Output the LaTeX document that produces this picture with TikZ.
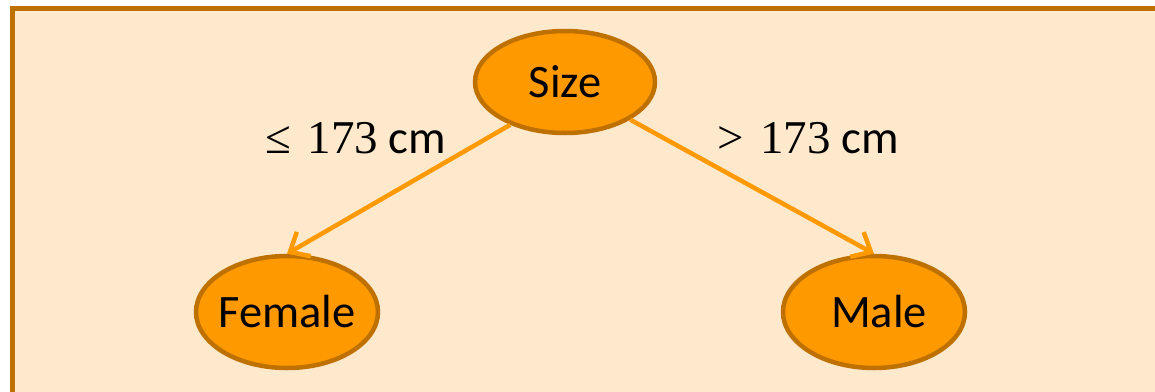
\documentclass[tikz,border=0pt]{standalone}
\usepackage{fontspec}
\setmainfont{Carlito}
\newfontfamily\relfont{Liberation Serif}
\usetikzlibrary{shapes.geometric,arrows.meta}
\definecolor{panelfill}{RGB}{255,233,204}
\definecolor{panelrim}{RGB}{191,113,0}
\definecolor{leaffill}{RGB}{255,153,0}
\tikzset{
  leaf/.style={ellipse, draw=panelrim, fill=leaffill, line width=4.5pt,
    inner ysep=0pt, inner xsep=-10pt,
    minimum width=182pt, minimum height=112pt,
    font=\fontsize{46.5}{52}\selectfont},
  branch/.style={draw=leaffill, line width=4.5pt,
    -{Straight Barb[length=16pt,width=28pt,line width=4.5pt]}},
  cond/.style={anchor=base, inner sep=0pt, font=\fontsize{47}{52}\selectfont}
}
\begin{document}
\begin{tikzpicture}[x=1pt,y=-1pt]
  \useasboundingbox (0,0) rectangle (1155,391);
  \clip (0,0) rectangle (1155,391);
  % panel behind the tree
  \draw[panelrim, fill=panelfill, line width=5pt] (12.5,8.5) rectangle (1200,450);
  % tree nodes
  \node[leaf, minimum width=180pt, minimum height=102pt] (size) at (565,82) {Size};
  \node[leaf] (female) at (287,312) {Female};
  \node[leaf] (male) at (874,312) {\hspace{10pt}Male};
  % branches
  \draw[branch] (size.218) -- (female.north);
  \draw[branch] (size.330) -- (male.north);
  % branch conditions
  \node[cond] (lecond) at (356,153) {{\relfont ≤\hspace{0.35em}173} cm};
  \node[cond] (gtcond) at (808,153) {{\relfont >\hspace{0.35em}173} cm};
\end{tikzpicture}
\end{document}
